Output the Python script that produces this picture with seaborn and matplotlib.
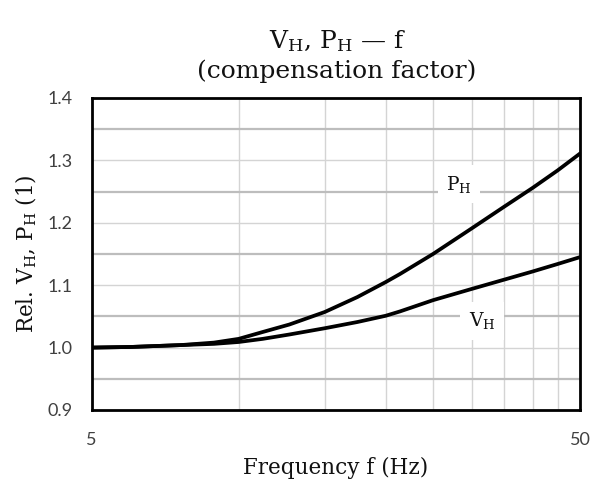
import numpy as np
import pandas as pd
import matplotlib
matplotlib.use("Agg")
import matplotlib.pyplot as plt
import matplotlib.ticker as mticker
import seaborn as sns

# ---- data ----
freq = [5, 6, 7.6, 8.9, 10, 11.2, 12.7, 15, 17.5, 20, 21.4, 25, 30, 35, 40, 45, 50]
p_h = [1.000, 1.001, 1.004, 1.008, 1.014, 1.025, 1.037, 1.057, 1.081, 1.105,
       1.118, 1.150, 1.191, 1.226, 1.256, 1.284, 1.311]
v_h = [1.000, 1.001, 1.004, 1.006, 1.009, 1.014, 1.021, 1.031, 1.041, 1.051,
       1.058, 1.076, 1.094, 1.109, 1.122, 1.134, 1.145]
x_ticks = [5, 50]
x_minor = [10, 15, 20, 25, 30, 35, 40, 45]
y_ticks = [0.9, 1.0, 1.1, 1.2, 1.3, 1.4]
y_minor = [0.95, 1.05, 1.15, 1.25, 1.35]
title_text = "V$_\\mathrm{H}$, P$_\\mathrm{H}$ — f\n(compensation factor)"
xlabel_text = "Frequency f (Hz)"
ylabel_text = "Rel. V$_\\mathrm{H}$, P$_\\mathrm{H}$ (1)"
label_p = "P$_\\mathrm{H}$"
label_v = "V$_\\mathrm{H}$"

sns.set_theme(style="white")
plt.rcParams["font.family"] = ["DejaVu Serif"]
plt.rcParams["mathtext.fontset"] = "custom"
plt.rcParams["mathtext.rm"] = "DejaVu Serif"
plt.rcParams["mathtext.it"] = "DejaVu Serif:italic"

df = pd.DataFrame({
    "f": freq * 2,
    "val": p_h + v_h,
    "series": ["P"] * len(freq) + ["V"] * len(freq),
})

fig = plt.figure(figsize=(6, 5), dpi=100)
ax = fig.add_axes([0.1528, 0.18, 0.8139, 0.624])

sns.lineplot(data=df, x="f", y="val", hue="series", palette=["black", "black"],
             linewidth=2.7, legend=False, ax=ax, zorder=5)
for ln in ax.lines:
    ln.set_solid_joinstyle("round")
    ln.set_solid_capstyle("round")

ax.set_xscale("log")
ax.set_xlim(5, 50)
ax.set_ylim(0.9, 1.4)

ax.xaxis.set_major_locator(mticker.FixedLocator(x_ticks))
ax.xaxis.set_major_formatter(mticker.FixedFormatter([str(v) for v in x_ticks]))
ax.xaxis.set_minor_locator(mticker.FixedLocator(x_minor))
ax.xaxis.set_minor_formatter(mticker.NullFormatter())
ax.yaxis.set_major_locator(mticker.FixedLocator(y_ticks))
ax.yaxis.set_major_formatter(mticker.FixedFormatter([f"{v:.1f}" for v in y_ticks]))
ax.yaxis.set_minor_locator(mticker.FixedLocator(y_minor))

ax.grid(False)
for xv in x_minor:
    ax.axvline(xv, color="#d4d4d4", linewidth=1.0, zorder=1)
for yv in y_ticks[1:-1]:
    ax.axhline(yv, color="#d4d4d4", linewidth=1.0, zorder=1)
for yv in y_minor:
    ax.axhline(yv, color="#bdbdbd", linewidth=1.6, zorder=1)

for s in ax.spines.values():
    s.set_color("black")
    s.set_linewidth(2.0)
    s.set_visible(True)

ax.tick_params(axis="y", which="major", direction="in", length=6, width=1.5,
               color="black", pad=14, labelsize=13, labelcolor="#404040")
ax.tick_params(axis="y", which="minor", length=0)
ax.tick_params(axis="x", which="both", length=0, pad=16, labelsize=13,
               labelcolor="#404040")
for lab in ax.get_xticklabels() + ax.get_yticklabels():
    lab.set_family(["Lato", "DejaVu Sans"])

ax.set_xlabel(xlabel_text, fontsize=15.5, color="#111111", labelpad=6)
ax.set_ylabel(ylabel_text, fontsize=15.5, color="#111111", labelpad=6)
fig.text(0.5617, 0.888, title_text, ha="center", va="center", fontsize=18,
         color="#111111", linespacing=1.3)

bbox = dict(facecolor="white", edgecolor="none", pad=6)
ax.text(28.3, 1.262, label_p, ha="center", va="center", fontsize=13.5,
        color="#111111", bbox=bbox, zorder=6)
ax.text(31.5, 1.043, label_v, ha="center", va="center", fontsize=13.5,
        color="#111111", bbox=bbox, zorder=6)

fig.savefig("out.png", dpi=100, facecolor="white")
